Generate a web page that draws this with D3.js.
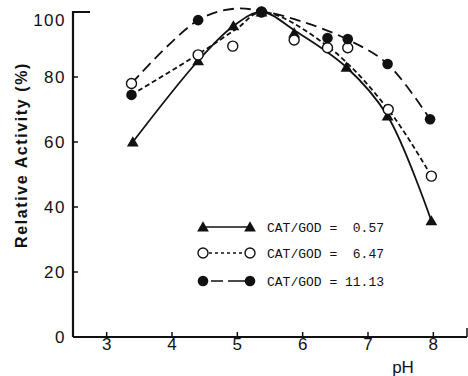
<!DOCTYPE html>
<html><head><meta charset="utf-8">
<script src="https://cdn.jsdelivr.net/npm/d3@7"></script>
<style>body{margin:0;background:#fff}svg{display:block}</style>
</head><body>
<svg id="c" width="468" height="376"></svg>
<script>
// Data
const xTicks = [3, 4, 5, 6, 7, 8];
const yTicks = [0, 20, 40, 60, 80, 100];
const seriesLabels = ["CAT/GOD =  0.57", "CAT/GOD =  6.47", "CAT/GOD = 11.13"];
// measured points
const triPH   = [3.4, 4.4, 4.94, 5.37, 5.87, 6.67, 7.3, 7.97];
const triVal  = [60, 85, 95.7, 100, 93.5, 83, 68, 35.7];
const openPH  = [3.38, 4.4, 4.93, 5.37, 5.87, 6.38, 6.69, 7.31, 7.97];
const openVal = [78, 86.8, 89.5, 100, 91.4, 89, 89, 70, 49.5];
const fillPH  = [3.38, 4.4, 5.37, 6.38, 6.69, 7.3, 7.95];
const fillVal = [74.5, 97.5, 100, 92, 91.7, 84, 67];
// fitted curves
const triCurvePH   = [3.4, 4.4, 4.94, 5.37, 5.9, 6.67, 7.3, 7.97];
const triCurveVal  = [60, 85, 95.7, 100, 94, 83, 68, 35.7];
const openCurvePH  = [3.38, 4.4, 5.0, 5.37, 6.38, 7.31, 7.97];
const openCurveVal = [74.5, 87, 95, 100, 89.5, 70, 49.5];
const fillCurvePH  = [3.38, 4.4, 4.95, 5.37, 6.0, 6.69, 7.3, 7.95];
const fillCurveVal = [78, 97.5, 101, 100.3, 97, 91.5, 84, 67];

const svg = d3.select("#c");
const x = d3.scaleLinear().domain([2.5, 8.5]).range([74, 466]);
const y = d3.scaleLinear().domain([0, 100]).range([337, 12]);
const ink = "#111";

// axes
svg.append("line").attr("x1", 73).attr("x2", 467).attr("y1", 337).attr("y2", 337)
  .attr("stroke", ink).attr("stroke-width", 2.2);
svg.append("line").attr("x1", 73).attr("x2", 73).attr("y1", 337).attr("y2", 11)
  .attr("stroke", ink).attr("stroke-width", 2.2);
svg.append("line").attr("x1", 72).attr("x2", 90).attr("y1", 12).attr("y2", 12)
  .attr("stroke", ink).attr("stroke-width", 2);
svg.append("line").attr("x1", 467).attr("x2", 467).attr("y1", 337).attr("y2", 328)
  .attr("stroke", ink).attr("stroke-width", 1.5);

const xa = svg.append("g");
xTicks.forEach(t => {
  xa.append("line").attr("x1", x(t)).attr("x2", x(t)).attr("y1", 337).attr("y2", 332)
    .attr("stroke", ink).attr("stroke-width", 1.5);
  xa.append("text").attr("x", x(t)).attr("y", 350).attr("text-anchor", "middle")
    .attr("font-family", "Liberation Sans, Arial, sans-serif").attr("font-size", 17).attr("fill", ink).text(t);
});
const ya = svg.append("g");
yTicks.forEach(t => {
  if (t > 0 && t < 100) ya.append("line").attr("x1", 73).attr("x2", 78).attr("y1", y(t)).attr("y2", y(t))
    .attr("stroke", ink).attr("stroke-width", 1.5);
  ya.append("text").attr("x", 66).attr("y", t === 100 ? 20 : y(t)).attr("dy", "0.35em").attr("text-anchor", "end")
    .attr("font-family", "Liberation Sans, Arial, sans-serif").attr("font-size", 17).attr("letter-spacing", 1.5).attr("fill", ink).text(t);
});
svg.append("text").attr("transform", "translate(27,155) rotate(-90)").attr("text-anchor", "middle")
  .attr("font-family", "Liberation Sans, Arial, sans-serif").attr("font-size", 16).attr("font-weight", "bold")
  .attr("letter-spacing", 1.6).attr("fill", ink).text("Relative Activity (%)");
svg.append("text").attr("x", 403).attr("y", 373).attr("text-anchor", "middle")
  .attr("font-family", "Liberation Sans, Arial, sans-serif").attr("font-size", 17).attr("fill", ink).text("pH");

// curves
const line = d3.line().x(d => x(d[0])).y(d => y(d[1])).curve(d3.curveCatmullRom.alpha(0.5));
const dashes = [null, "5,3", "11,6"];
const curves = [
  d3.zip(triCurvePH, triCurveVal),
  d3.zip(openCurvePH, openCurveVal),
  d3.zip(fillCurvePH, fillCurveVal)
];
curves.forEach((c, i) => {
  svg.append("path").attr("d", line(c)).attr("fill", "none").attr("stroke", ink)
    .attr("stroke-width", 1.8).attr("stroke-dasharray", dashes[i]);
});

// markers
const tri = d3.symbol().type(d3.symbolTriangle).size(60);
function marker(g, kind, cx, cy) {
  if (kind === 0) g.append("path").attr("d", tri()).attr("transform", `translate(${cx},${cy + 1})`).attr("fill", ink);
  else if (kind === 1) g.append("circle").attr("cx", cx).attr("cy", cy).attr("r", 5).attr("fill", "#fff").attr("stroke", ink).attr("stroke-width", 1.4);
  else g.append("circle").attr("cx", cx).attr("cy", cy).attr("r", 5.3).attr("fill", ink);
}
const pts = [d3.zip(triPH, triVal), d3.zip(openPH, openVal), d3.zip(fillPH, fillVal)];
const mg = svg.append("g");
pts.forEach((p, i) => p.forEach(d => marker(mg, i, x(d[0]), y(d[1]))));

// legend
const legY = [227, 253, 281];
const lg = svg.append("g");
seriesLabels.forEach((s, i) => {
  lg.append("line").attr("x1", 203).attr("x2", 250).attr("y1", legY[i]).attr("y2", legY[i])
    .attr("stroke", ink).attr("stroke-width", 1.6).attr("stroke-dasharray", dashes[i] ? (i === 1 ? "3,3" : "0,8,12,5,12") : null);
  marker(lg, i, 203, legY[i]);
  marker(lg, i, 250, legY[i]);
  lg.append("text").attr("x", 267).attr("y", legY[i]).attr("dy", "0.35em")
    .attr("font-family", "Liberation Mono, Courier New, monospace").attr("font-size", 13)
    .attr("fill", ink).attr("xml:space", "preserve").style("white-space", "pre").text(s);
});
</script>
</body></html>
